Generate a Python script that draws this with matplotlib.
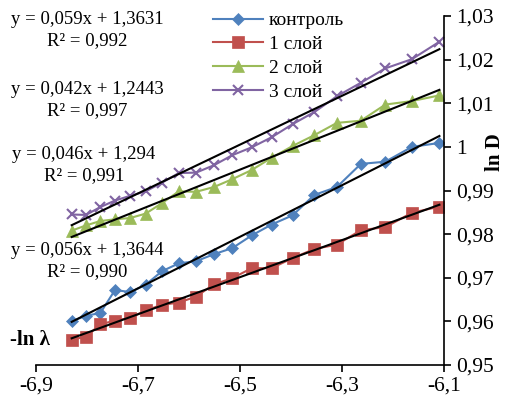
import numpy as np
import matplotlib.pyplot as plt

plt.rcParams['font.family'] = ['Liberation Serif', 'DejaVu Serif']

# -ln(lambda), lambda from 925 to 450 nm
x = [-6.830, -6.802, -6.774, -6.745, -6.715, -6.685, -6.653, -6.620, -6.586, -6.551,
     -6.515, -6.477, -6.438, -6.397, -6.354, -6.310, -6.263, -6.215, -6.163, -6.109]

control = [0.9600, 0.9613, 0.9619, 0.9672, 0.9667, 0.9684, 0.9715, 0.9733, 0.9738, 0.9754,
           0.9768, 0.9797, 0.9822, 0.9843, 0.9890, 0.9908, 0.9961, 0.9966, 1.0000, 1.0009]
layer1 = [0.9558, 0.9565, 0.9593, 0.9602, 0.9608, 0.9625, 0.9638, 0.9643, 0.9657, 0.9685,
          0.9699, 0.9722, 0.9722, 0.9745, 0.9766, 0.9776, 0.9809, 0.9816, 0.9849, 0.9863]
layer2 = [0.9808, 0.9820, 0.9830, 0.9834, 0.9837, 0.9847, 0.9871, 0.9898, 0.9897, 0.9908,
          0.9926, 0.9947, 0.9975, 1.0002, 1.0027, 1.0055, 1.0060, 1.0097, 1.0105, 1.0118]
layer3 = [0.9845, 0.9844, 0.9862, 0.9877, 0.9888, 0.9898, 0.9918, 0.9940, 0.9941, 0.9958,
          0.9981, 0.9999, 1.0022, 1.0052, 1.0080, 1.0116, 1.0147, 1.0180, 1.0201, 1.0241]

labels = ['контроль', '1 слой', '2 слой', '3 слой']
colors = ['#4F81BD', '#C0504D', '#9BBB59', '#8064A2']
markers = ['D', 's', '^', 'x']
msizes = [6.5, 8.5, 8, 7.5]

equations = ['y = 0,059x + 1,3631\nR² = 0,992',
             'y = 0,042x + 1,2443\nR² = 0,997',
             'y = 0,046x + 1,294\nR² = 0,991',
             'y = 0,056x + 1,3644\nR² = 0,990']
eq_pos = [(87, 30), (87, 100), (84, 165), (87, 261)]  # pixel centers

W, H = 505, 400
fig = plt.figure(figsize=(W / 100, H / 100), dpi=100)
ax = fig.add_axes([36 / W, 35 / H, 408 / W, 349 / H])

series = [control, layer1, layer2, layer3]
for ys, lab, c, m, ms in zip(series, labels, colors, markers, msizes):
    ax.plot(x, ys, color=c, marker=m, markersize=ms, lw=1.5, label=lab,
            markeredgewidth=1.5 if m == 'x' else 0.5)

# linear trendlines
xa = np.array(x)
for ys in series:
    k, b = np.polyfit(xa, ys, 1)
    xx = np.array([xa.min(), xa.max()])
    ax.plot(xx, k * xx + b, color='black', lw=1.5)

ax.set_xlim(-6.9, -6.1)
ax.set_ylim(0.95, 1.03)
ax.set_xticks([-6.9, -6.7, -6.5, -6.3, -6.1])
ax.set_xticklabels(['-6,9', '-6,7', '-6,5', '-6,3', '-6,1'])
yt = [0.95, 0.96, 0.97, 0.98, 0.99, 1.0, 1.01, 1.02, 1.03]
ax.set_yticks(yt)
ax.set_yticklabels(['0,95', '0,96', '0,97', '0,98', '0,99', '1', '1,01', '1,02', '1,03'])
ax.yaxis.tick_right()
ax.spines['left'].set_visible(False)
ax.spines['top'].set_visible(False)
ax.spines['right'].set_linewidth(1.2)
ax.spines['bottom'].set_linewidth(1.2)
ax.tick_params(axis='both', direction='out', length=5, width=1.2, labelsize=15.5)
ax.tick_params(axis='y', pad=4)
ax.tick_params(axis='x', pad=3)

for txt, (px, py) in zip(equations, eq_pos):
    fig.text(px / W, 1 - py / H, txt, ha='center', va='center', fontsize=13.5,
             multialignment='center', linespacing=1.3)

fig.text(10 / W, 1 - 340 / H, '-ln λ', ha='left', va='center', fontsize=15, fontweight='bold')
fig.text(495 / W, 1 - 152 / H, 'ln D', ha='center', va='center', fontsize=15,
         fontweight='bold', rotation=90)

ax.legend(loc='upper left', bbox_to_anchor=(205 / W, 1 - 4 / H), bbox_transform=fig.transFigure,
          frameon=False, fontsize=14, handlelength=2.6, handletextpad=0.3,
          labelspacing=0.32, borderaxespad=0)

fig.savefig('out.png', dpi=100)
